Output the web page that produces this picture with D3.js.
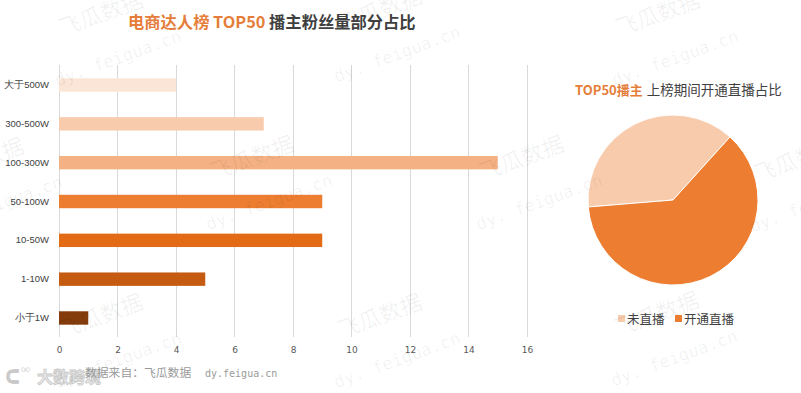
<!DOCTYPE html>
<html><head><meta charset="utf-8">
<script src="https://cdn.jsdelivr.net/npm/d3@7"></script>
<style>
html,body{margin:0;padding:0;background:#fff;}
svg{display:block;font-family:"Noto Sans CJK SC","Noto Sans",sans-serif;}
</style></head>
<body>
<svg id="c" width="801" height="393"></svg>
<script>
// ---- data ----
const categories = ["大于500W","300-500W","100-300W","50-100W","10-50W","1-10W","小于1W"];
const counts = [4, 7, 15, 9, 9, 5, 1];
const barColors = ["#FBE5D6","#F8CBAD","#F4B183","#ED7D31","#E36B16","#C55A11","#843C0C"];
const xTicks = [0,2,4,6,8,10,12,14,16];
const pieLabels = ["未直播","开通直播"];
const pieValues = [19, 31];
const pieColors = ["#F8CBAD","#ED7D31"];

const svg = d3.select("#c");

// ---- bar chart ----
const x = d3.scaleLinear().domain([0,16]).range([59,527]);
const y = d3.scaleBand().domain(categories).range([65.5,337.5]).paddingInner(0.655).paddingOuter(0.33);

const g = svg.append("g");
g.selectAll("line.grid").data(xTicks).join("line")
  .attr("x1",d=>x(d)).attr("x2",d=>x(d)).attr("y1",65).attr("y2",337)
  .attr("stroke","#d9d9d9").attr("stroke-width",1).attr("shape-rendering","crispEdges");

g.selectAll("rect.bar").data(categories).join("rect")
  .attr("x",x(0)).attr("y",d=>y(d)).attr("height",y.bandwidth())
  .attr("width",(d,i)=>x(counts[i])-x(0)).attr("fill",(d,i)=>barColors[i]);

const xAxis = d3.axisBottom(x).tickValues(xTicks).tickSize(0).tickPadding(0);
const ax = g.append("g").attr("transform","translate(0,347)").call(xAxis);
ax.select(".domain").remove();
ax.selectAll("text").attr("font-size",9).attr("fill","#595959").attr("dy","0.7em")
  .attr("font-family","'DejaVu Sans',sans-serif");

const yAxis = d3.axisLeft(y).tickSize(0).tickPadding(0);
const ay = g.append("g").attr("transform","translate(49,0)").call(yAxis);
ay.select(".domain").remove();
ay.selectAll("text").attr("font-size",9.5).attr("fill","#404040");

// ---- main title ----
const t = svg.append("text").attr("x",128).attr("y",28).attr("font-size",16.3).attr("font-weight","bold");
t.append("tspan").attr("fill","#E57E3A").text("电商达人榜 TOP50 ");
t.append("tspan").attr("fill","#404040").text("播主粉丝量部分占比");

// ---- pie ----
const cx = 673, cy = 200, r = 85;
const a0 = 265.3 * Math.PI/180;
const pie = d3.pie().sort(null).startAngle(a0).endAngle(a0 + 2*Math.PI);
const arc = d3.arc().innerRadius(0).outerRadius(r);
const pg = svg.append("g").attr("transform",`translate(${cx},${cy})`);
pg.selectAll("path").data(pie(pieValues)).join("path")
  .attr("d",arc).attr("fill",(d,i)=>pieColors[i]).attr("stroke","#fff").attr("stroke-width",1);

const pt = svg.append("text").attr("x",575).attr("y",95).attr("font-size",13.5);
pt.append("tspan").attr("fill","#E57E3A").attr("font-weight","bold").attr("font-size",13).text("TOP50播主");
pt.append("tspan").attr("fill","#404040").attr("dx",4).text("上榜期间开通直播占比");

// legend
const lg = svg.append("g");
const legX = [618, 675];
pieLabels.forEach((l,i)=>{
  lg.append("rect").attr("x",legX[i]).attr("y",315).attr("width",7).attr("height",7).attr("fill",pieColors[i]);
  lg.append("text").attr("x",legX[i]+9).attr("y",323.5).attr("font-size",12.5).attr("fill","#404040").text(l);
});

// ---- logo (drawn under the source line) ----
const logo = svg.append("g").attr("opacity",0.8);
logo.append("text").attr("x",6).attr("y",383).attr("font-size",18).attr("font-weight","bold")
  .attr("fill","#d0d0d0").attr("stroke","#b8b8b8").attr("stroke-width",0.6).text("ᑕ");
logo.append("text").attr("x",21).attr("y",373).attr("font-size",9)
  .attr("fill","#c8c8c8").text("∞");
logo.append("text").attr("x",37).attr("y",383).attr("font-size",16).attr("font-weight","bold")
  .attr("fill","#e4e4e4").attr("stroke","#bdbdbd").attr("stroke-width",0.8).text("大数跨境");

// ---- source line ----
svg.append("text").attr("x",85).attr("y",377).attr("font-size",11.8).attr("fill","#9a9a9a")
  .text("数据来自：飞瓜数据");
svg.append("text").attr("x",205).attr("y",377).attr("font-size",10)
  .attr("font-family","'DejaVu Sans Mono',monospace").attr("fill","#9a9a9a")
  .text("dy.feigua.cn");

// ---- watermark tiles ----
const wmPos = [[101,14],[380,10],[658,14],[-18,160],[252,158],[522,158],[796,160],[101,316],[380,316],[657,314]];
const wm = svg.append("g").attr("pointer-events","none");
wmPos.forEach(([px,py])=>{
  wm.append("text").attr("transform",`translate(${px},${py}) rotate(-20)`)
    .attr("text-anchor","middle").attr("dy","0.35em").attr("font-size",22)
    .attr("fill","#000").attr("fill-opacity",0.06).text("飞瓜数据");
  wm.append("text").attr("transform",`translate(${px+17},${py+44}) rotate(-20)`)
    .attr("text-anchor","middle").attr("dy","0.35em").attr("font-size",17)
    .attr("font-family","'DejaVu Sans Mono',monospace")
    .attr("fill","#000").attr("fill-opacity",0.06).text("dy. feigua.cn");
});
</script>
</body></html>
